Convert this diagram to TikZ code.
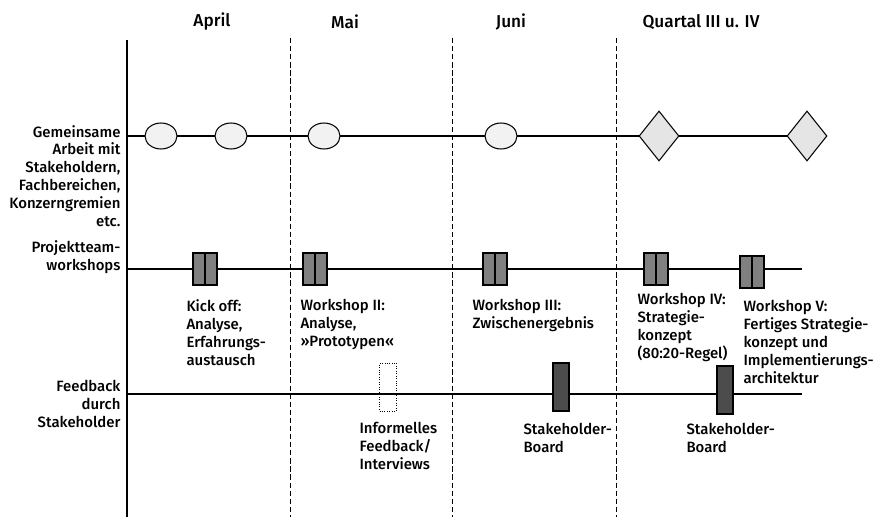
\documentclass[tikz,border=0pt]{standalone}
\usepackage{fontspec}
\setmainfont{Fira Sans Medium}
\usetikzlibrary{shapes.geometric,positioning}
\begin{document}
\begin{tikzpicture}[x=0.02cm, y=-0.02cm, line width=0.6pt,
  month/.style={font=\fontsize{9.8}{11}\selectfont},
  rowlabel/.style={anchor=east, align=right, inner sep=0pt, font=\fontsize{8.5}{10.2}\selectfont},
  note/.style={anchor=north west, align=left, inner sep=0pt, font=\fontsize{8.5}{10.2}\selectfont},
  meeting/.style={draw, ellipse, fill=gray!10, minimum width=0.64cm, minimum height=0.52cm, inner sep=0pt},
  milestone/.style={draw, diamond, fill=gray!20, aspect=0.8, minimum width=0.8cm, minimum height=1cm, inner sep=0pt},
  workshop/.style={draw, rectangle, fill=gray, minimum width=0.48cm, minimum height=0.64cm, inner sep=0pt,
    path picture={\draw (path picture bounding box.north) -- (path picture bounding box.south);}},
  board/.style={draw, rectangle, fill=black!70, minimum width=0.32cm, minimum height=0.96cm, inner sep=0pt},
  informal/.style={draw, densely dotted, line width=0.4pt, rectangle, minimum width=0.34cm, minimum height=0.96cm, inner sep=0pt},
  divider/.style={dash pattern=on 3pt off 1.6pt, line width=0.5pt}
]
\useasboundingbox (0,0) rectangle (874,517);

% months
\node[month] (apr) at (212,22) {April};
\node[month] (mai) at (345,22) {Mai};
\node[month] (jun) at (511,22) {Juni};
\node[month] (q34) at (701,22) {Quartal III u. IV};

% axis and month dividers
\coordinate (axtop) at (127,40);
\coordinate (axbot) at (127,517);
\draw (axtop) -- (axbot);
\foreach \x/\n in {290/a, 452/b, 616/c} {
  \coordinate (d\n top) at (\x,38);
  \coordinate (d\n bot) at (\x,517);
  \draw[divider] (d\n top) -- (d\n bot);
}

% rows
\node[rowlabel] (lab1) at (121,176) {Gemeinsame\\Arbeit mit\\Stakeholdern,\\Fachbereichen,\\Konzerngremien\\etc.};
\node[rowlabel] (lab2) at (121,257) {Projektteam-\\workshops};
\node[rowlabel] (lab3) at (121,404) {Feedback\\durch\\Stakeholder};

\coordinate (r1s) at (127,136);
\coordinate (r1e) at (790,136);
\coordinate (r2s) at (127,269);
\coordinate (r2e) at (802,269);
\coordinate (r3s) at (127,394);
\coordinate (r3e) at (802,394);
\draw (r1s) -- (r1e);
\draw (r2s) -- (r2e);
\draw (r3s) -- (r3e);

% joint work
\node[meeting] (e1) at (161,136) {};
\node[meeting] (e2) at (231,136) {};
\node[meeting] (e3) at (324,136) {};
\node[meeting] (e4) at (501,136) {};
\node[milestone] (ms1) at (659,136) {};
\node[milestone] (ms2) at (807,136) {};

% workshops
\node[workshop] (ws1) at (205,269) {};
\node[workshop] (ws2) at (315,269) {};
\node[workshop] (ws3) at (495,269) {};
\node[workshop] (ws4) at (656,269) {};
\node[workshop] (ws5) at (752,272) {};
\node[note] (n1) at (186,299) {Kick off:\\Analyse,\\Erfahrungs-\\austausch};
\node[note] (n2) at (300,299) {Workshop II:\\Analyse,\\»Prototypen«};
\node[note] (n3) at (472,299) {Workshop III:\\Zwischenergebnis};
\node[note] (n4) at (637,293) {Workshop IV:\\Strategie-\\konzept\\(80:20-Regel)};
\node[note] (n5) at (743,300) {Workshop V:\\Fertiges Strategie-\\konzept und\\Implementierungs-\\architektur};

% feedback
\node[informal] (fb1) at (388,387) {};
\node[board] (fb2) at (561,387) {};
\node[board] (fb3) at (725,390) {};
\node[note] (n6) at (359,422) {Informelles\\Feedback/\\Interviews};
\node[note] (n7) at (523,423) {Stakeholder-\\Board};
\node[note] (n8) at (686,423) {Stakeholder-\\Board};
\end{tikzpicture}
\end{document}
